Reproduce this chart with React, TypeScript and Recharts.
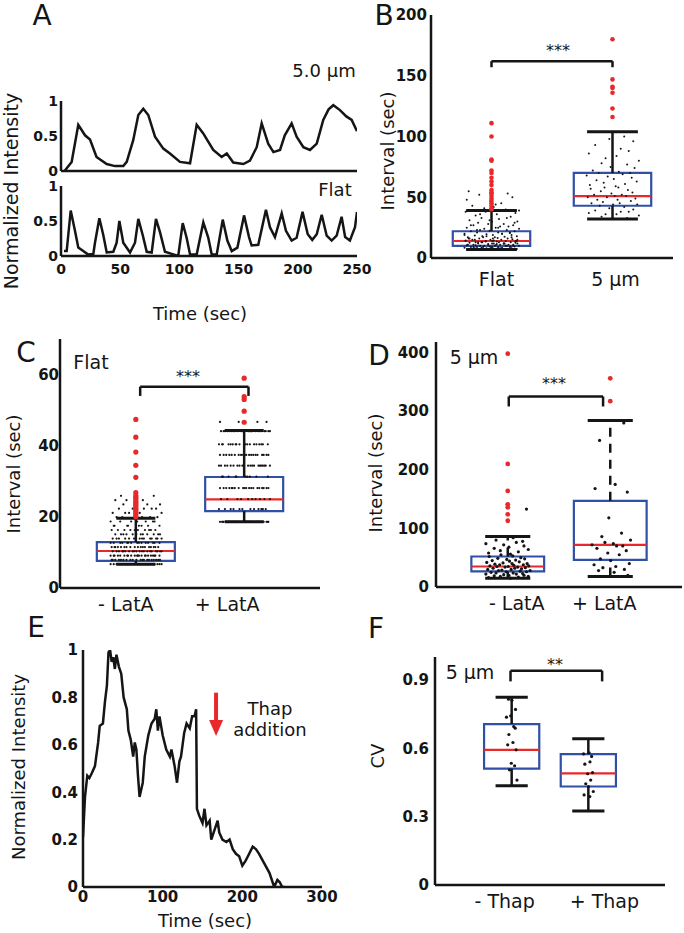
import React from 'react';
import {
  ComposedChart, LineChart, Line, Scatter, XAxis, YAxis,
  ReferenceArea, ReferenceLine,
} from 'recharts';

const FONT = '"DejaVu Sans", sans-serif';
const INK = '#151515';
const BLUE = '#3050a6';
const RED = '#e8292b';

// ---- panel A: normalized intensity traces ----
const A_TOP_T = [3, 9, 14.6, 20.3, 24.5, 30, 38.6, 45.6, 52.6, 55.5, 61, 65.3, 69.5, 73.7, 79.4, 86.4, 92, 100.5, 109, 114.6, 120, 128.6, 135.7, 140, 145.5, 154, 159.6, 165.3, 169.5, 175, 179.4, 185, 189, 194.8, 199, 204.7, 210.3, 216, 221.5, 226, 230, 235.6, 241, 245.5, 250];
const A_TOP_V = [0, 0.13, 0.66, 0.51, 0.45, 0.2, 0.1, 0.07, 0.07, 0.13, 0.44, 0.8, 0.89, 0.8, 0.49, 0.32, 0.25, 0.13, 0.11, 0.66, 0.54, 0.3, 0.2, 0.25, 0.12, 0.1, 0.15, 0.34, 0.68, 0.39, 0.27, 0.3, 0.51, 0.68, 0.49, 0.34, 0.3, 0.39, 0.73, 0.88, 0.94, 0.87, 0.78, 0.73, 0.57];
const A_BOT_T = [2.5, 4.8, 8.2, 11.8, 14.6, 18.8, 23, 27.3, 28.7, 32.4, 35.7, 38.6, 44.2, 47, 49.3, 52.6, 58.3, 62.5, 65.3, 69, 72.4, 76.6, 80.2, 83.6, 87.8, 93.5, 99, 102.8, 106.1, 109, 114.6, 120.2, 124.4, 127.3, 131.5, 136.6, 140.5, 144.2, 149, 154.6, 158.8, 161, 166.6, 173.1, 176.5, 180.7, 186.4, 190, 194.8, 199, 204, 208.4, 212.2, 216, 220.2, 224.4, 228.6, 232.8, 237, 240, 244, 248.3, 250];
const A_BOT_V = [0.07, 0.07, 0.65, 0.36, 0.12, 0.07, 0.02, 0.03, 0.19, 0.54, 0.3, 0.05, 0.06, 0.19, 0.5, 0.19, 0.05, 0.19, 0.53, 0.3, 0.06, 0.05, 0.53, 0.34, 0.06, 0.03, 0, 0.47, 0.26, 0.02, 0.02, 0.48, 0.26, 0.02, 0.02, 0.52, 0.22, 0.07, 0.12, 0.58, 0.27, 0.15, 0.16, 0.66, 0.41, 0.27, 0.61, 0.36, 0.22, 0.26, 0.63, 0.31, 0.23, 0.31, 0.59, 0.29, 0.22, 0.29, 0.56, 0.27, 0.22, 0.41, 0.63];
const A_X_TICKS = [0, 50, 100, 150, 200, 250];
const A_Y_TICKS = [0, 0.5, 1];

// ---- panel E: thapsigargin trace ----
const E_T = [0, 2.5, 5.4, 8, 11, 15, 19, 21, 25, 27.5, 30, 32, 34, 36, 38, 40, 42, 45, 48, 51, 55, 57, 60, 63, 65, 67, 69, 71, 75, 77.5, 82, 86, 90, 92, 94, 96, 100, 104.5, 109, 111, 115, 118, 121, 123, 127, 130, 134, 137, 140, 142, 143, 146, 150, 152.5, 155, 159, 161, 165, 169, 171, 175, 180, 184, 188, 192, 196, 200, 204, 207, 213, 217, 221, 227.5, 234, 240, 244, 247, 250, 253];
const E_V = [0.21, 0.38, 0.47, 0.46, 0.48, 0.51, 0.61, 0.68, 0.69, 0.78, 0.85, 0.99, 1.0, 0.95, 0.97, 0.92, 0.98, 0.93, 0.9, 0.8, 0.75, 0.66, 0.62, 0.55, 0.61, 0.58, 0.47, 0.38, 0.44, 0.55, 0.64, 0.69, 0.71, 0.75, 0.66, 0.72, 0.64, 0.58, 0.55, 0.58, 0.51, 0.44, 0.53, 0.55, 0.65, 0.69, 0.67, 0.72, 0.72, 0.75, 0.33, 0.3, 0.27, 0.33, 0.26, 0.28, 0.2, 0.24, 0.28, 0.23, 0.2, 0.19, 0.2, 0.16, 0.14, 0.13, 0.09, 0.11, 0.13, 0.17, 0.16, 0.14, 0.1, 0.06, 0, 0.03, 0.02, 0, 0];
const E_X_TICKS = [0, 100, 200, 300];
const E_Y_TICKS = [0, 0.2, 0.4, 0.6, 0.8, 1];
const THAP_TIME = 167;

// shared horizontal jitter (fraction of spread)
const JITTER = [0.12, -0.85, 0.47, -0.33, 0.91, -0.6, 0.05, 0.72, -0.18, -0.97, 0.38, 0.66, -0.52, 0.24, -0.74, 0.83, -0.07, 0.55, -0.41, 0.99, -0.26, 0.15, -0.89, 0.61, 0.31, -0.65, 0.78, -0.12, 0.44, -0.48, 0.02, 0.93, -0.79, 0.27, -0.36, 0.69, -0.57, 0.19, 0.86, -0.21, -0.93, 0.51, 0.08, -0.69, 0.35, -0.04, 0.75, -0.44, 0.58, -0.82, 0.22, -0.3];

// ---- panel B: Flat vs 5 um ----
const B_CATS = ['Flat', '5 µm'];
const B_Q1 = [10, 43];
const B_MED = [14, 51];
const B_Q3 = [22, 70];
const B_LO = [7, 32];
const B_HI = [39, 104];
const B_FLAT = [7, 7, 7, 7.5, 7.5, 8, 8, 8, 8, 8.5, 8.5, 9, 9, 9, 9, 9.5, 9.5, 10, 10, 10, 10, 10.5, 10.5, 11, 11, 11, 11, 11.5, 12, 12, 12, 12, 12.5, 13, 13, 13, 13, 13.5, 14, 14, 14, 14, 14.5, 15, 15, 15, 15.5, 16, 16, 16, 16.5, 17, 17, 17, 17.5, 18, 18, 18.5, 19, 19, 19.5, 20, 20, 20.5, 21, 21, 22, 22, 22.5, 23, 23, 24, 24, 25, 25, 26, 26, 27, 27, 28, 28, 29, 30, 30, 31, 32, 33, 34, 35, 36, 37, 38, 38, 40, 42, 43, 45, 47, 50, 52, 53, 55, 8, 9, 10, 11, 12, 13, 14, 15, 16, 17, 18, 19, 20, 21, 23, 25, 27, 29, 31, 33, 36, 39, 41, 44, 48, 7, 8, 9, 10, 11, 12, 13, 14, 15, 16, 7.5, 8.5, 9.5, 10.5, 11.5, 12.5, 13.5, 14.5, 10, 12];
const B_FLAT_OUT = [111, 100, 81, 80, 72, 70, 66, 63, 60, 56, 54, 53, 51, 49, 47, 45, 43, 41, 40];
const B_5UM = [33, 34, 35, 36, 36, 37, 38, 38, 39, 40, 41, 42, 43, 44, 44, 45, 45, 46, 47, 48, 48, 49, 50, 50, 51, 51, 52, 52, 53, 54, 55, 56, 57, 58, 58, 59, 60, 61, 62, 63, 64, 65, 66, 67, 68, 69, 70, 70, 71, 72, 74, 75, 77, 78, 80, 82, 84, 86, 88, 90, 93, 96, 98, 100];
const B_5UM_OUT = [180, 147, 141, 140, 136, 123, 116];
const B_Y_TICKS = [0, 50, 100, 150, 200];

// ---- panel C: Flat, -/+ LatA (values fall on frame-interval rows) ----
const LATA_CATS = ['- LatA', '+ LatA'];
const C_Q1 = [7.6, 21.6];
const C_MED = [10.4, 24.9];
const C_Q3 = [12.9, 31.2];
const C_LO = [6.7, 18.6];
const C_HI = [19.6, 44.3];
const C_MINUS_ROWS = [6.7, 7.9, 9.1, 10.3, 11.5, 12.7, 13.9, 15.1, 16.3, 17.5, 18.7, 19.9, 21.1, 22.3, 23.5, 24.7, 25.9];
const C_MINUS_COUNTS = [22, 20, 22, 20, 18, 15, 14, 12, 10, 8, 7, 6, 5, 5, 4, 3, 2];
const C_MINUS_OUT = [47.4, 42.4, 38.2, 34.5, 31.1, 26.8, 26, 25.5, 25, 24.4, 24, 23.5, 23, 22.4, 22, 21.5, 21, 20.5, 20];
const C_PLUS_ROWS = [18.6, 22.2, 25, 28.1, 31.3, 34.4, 37.4, 40.4, 44.1, 46.7];
const C_PLUS_COUNTS = [30, 12, 10, 20, 10, 20, 20, 18, 25, 4];
const C_PLUS_OUT = [59, 53.8, 53, 49.7, 46.6];
const C_Y_TICKS = [0, 20, 40, 60];

// ---- panel D: 5 um, -/+ LatA ----
const D_Q1 = [26.5, 46.4];
const D_MED = [35, 72];
const D_Q3 = [52, 147];
const D_LO = [15, 18];
const D_HI = [86, 284];
const D_MINUS = [15, 16, 17, 18, 18, 19, 20, 20, 21, 22, 22, 23, 24, 24, 25, 26, 26, 27, 28, 28, 29, 30, 30, 31, 32, 32, 33, 34, 34, 35, 35, 36, 36, 37, 38, 38, 39, 40, 40, 41, 42, 43, 44, 45, 46, 47, 48, 49, 50, 52, 53, 55, 56, 58, 60, 62, 64, 66, 68, 70, 72, 74, 76, 78, 80, 84, 86, 133];
const D_MINUS_OUT = [398, 210, 164, 141, 136, 124, 113];
const D_PLUS = [280, 250, 175, 168, 162, 118, 92, 86, 80, 76, 74, 72, 70, 70, 66, 62, 58, 55, 48, 45, 40, 38, 35, 33, 30, 28, 25, 20];
const D_PLUS_OUT = [356, 317];
const D_Y_TICKS = [0, 100, 200, 300, 400];

// ---- panel F: CV, -/+ Thap ----
const THAP_CATS = ['- Thap', '+ Thap'];
const F_Q1 = [0.51, 0.432];
const F_MED = [0.593, 0.49];
const F_Q3 = [0.706, 0.574];
const F_LO = [0.435, 0.325];
const F_HI = [0.824, 0.641];
const F_MINUS = [0.815, 0.81, 0.77, 0.742, 0.736, 0.695, 0.688, 0.66, 0.625, 0.615, 0.593, 0.534, 0.523, 0.505, 0.46];
const F_PLUS = [0.58, 0.575, 0.564, 0.54, 0.53, 0.493, 0.488, 0.46, 0.444, 0.432, 0.41, 0.395, 0.388];
const F_Y_TICKS = [0, 0.3, 0.6, 0.9];

const expandRows = (rows: number[], counts: number[]) =>
  rows.flatMap((r, i) => Array.from({ length: counts[i] }, () => r));

const jittered = (vals: number[], cat: number, spread: number, start = 0) =>
  vals.map((y, i) => ({ x: cat + JITTER[(i + start) % JITTER.length] * spread, y }));

const centered = (vals: number[], cat: number) => vals.map((y) => ({ x: cat, y }));

const zip = (ts: number[], vs: number[]) => ts.map((t, i) => ({ t, v: vs[i] }));

const PAD = { l: 70, t: 12, r: 26, b: 45 };
const boxStyle = (L: number, T: number) =>
  ({ position: 'absolute', left: L - PAD.l, top: T - PAD.t } as React.CSSProperties);

const axisLine = { stroke: INK, strokeWidth: 2.5 };
const numTick = { fontSize: 15, fontWeight: 700, fill: INK, fontFamily: FONT };
const smallTick = { ...numTick, fontSize: 14 };

const dot = (r: number, fill: string) => (p: any) =>
  <circle cx={p.cx} cy={p.cy} r={r} fill={fill} />;

type BoxPanelProps = {
  L: number; T: number; R: number; B: number;
  xDomain: [number, number]; yDomain: [number, number];
  yTicks: number[]; yFmt?: (v: number) => string;
  cats: string[]; catDx: number[];
  q1: number[]; med: number[]; q3: number[]; lo: number[]; hi: number[];
  halfW: number; capW: number;
  black: { x: number; y: number }[]; red: { x: number; y: number }[];
  dotR: number; redR: number;
  bracket: [number, number, number, number];
  dash?: string; yGap: number; xGap: number;
};

function BoxPanel(p: BoxPanelProps) {
  const w = p.R - p.L + PAD.l + PAD.r;
  const h = p.B - p.T + PAD.t + PAD.b;
  const [bx1, bx2, bTop, bLeg] = p.bracket;
  return (
    <div style={boxStyle(p.L, p.T)}>
      <ComposedChart width={w} height={h} margin={{ top: PAD.t, right: PAD.r, left: 0, bottom: 0 }}>
        <XAxis
          type="number" dataKey="x" domain={p.xDomain} ticks={[1, 2]} interval={0}
          height={PAD.b} axisLine={axisLine} tickLine={false} tickSize={0} tickMargin={p.xGap}
          allowDataOverflow
          tick={(t: any) => (
            <text x={t.x + p.catDx[t.index]} y={t.y} dy="0.71em" textAnchor="middle"
              fontSize={19} fontFamily={FONT} fill={INK}>
              {p.cats[t.index]}
            </text>
          )}
        />
        <YAxis
          type="number" dataKey="y" domain={p.yDomain} ticks={p.yTicks} interval={0}
          width={PAD.l} axisLine={axisLine} tickLine={false} tickSize={0} tickMargin={p.yGap}
          allowDataOverflow tick={numTick} tickFormatter={p.yFmt}
        />
        <Scatter data={p.black} shape={dot(p.dotR, INK)} isAnimationActive={false} />
        {[0, 1].map((i) => {
          const c = i + 1;
          return (
            <React.Fragment key={i}>
              <ReferenceLine segment={[{ x: c, y: p.q3[i] }, { x: c, y: p.hi[i] }]}
                stroke={INK} strokeWidth={2.5} strokeDasharray={p.dash} />
              <ReferenceLine segment={[{ x: c, y: p.lo[i] }, { x: c, y: p.q1[i] }]}
                stroke={INK} strokeWidth={2.5} strokeDasharray={p.dash} />
              <ReferenceLine segment={[{ x: c - p.capW, y: p.hi[i] }, { x: c + p.capW, y: p.hi[i] }]}
                stroke={INK} strokeWidth={3} />
              <ReferenceLine segment={[{ x: c - p.capW, y: p.lo[i] }, { x: c + p.capW, y: p.lo[i] }]}
                stroke={INK} strokeWidth={3} />
              <ReferenceArea x1={c - p.halfW} x2={c + p.halfW} y1={p.q1[i]} y2={p.q3[i]}
                fill="none" fillOpacity={0} stroke={BLUE} strokeWidth={2.2} strokeOpacity={1} />
              <ReferenceLine segment={[{ x: c - p.halfW, y: p.med[i] }, { x: c + p.halfW, y: p.med[i] }]}
                stroke={RED} strokeWidth={2.2} />
            </React.Fragment>
          );
        })}
        <Scatter data={p.red} shape={dot(p.redR, RED)} isAnimationActive={false} />
        <ReferenceLine segment={[{ x: bx1, y: bLeg }, { x: bx1, y: bTop }]} stroke={INK} strokeWidth={2.5} />
        <ReferenceLine segment={[{ x: bx1, y: bTop }, { x: bx2, y: bTop }]} stroke={INK} strokeWidth={2.5} />
        <ReferenceLine segment={[{ x: bx2, y: bTop }, { x: bx2, y: bLeg }]} stroke={INK} strokeWidth={2.5} />
      </ComposedChart>
    </div>
  );
}

type TracePanelProps = {
  L: number; T: number; R: number; B: number;
  data: { t: number; v: number }[];
  xDomain: [number, number]; xTicks: number[]; showX: boolean;
  yTicks: number[]; yFmt: (v: number) => string; yGap: number; xGap: number;
  tickStyle: typeof numTick;
  children?: React.ReactNode;
};

function TracePanel(p: TracePanelProps) {
  const w = p.R - p.L + PAD.l + PAD.r;
  const h = p.B - p.T + PAD.t + PAD.b;
  return (
    <div style={boxStyle(p.L, p.T)}>
      <LineChart width={w} height={h} data={p.data} margin={{ top: PAD.t, right: PAD.r, left: 0, bottom: 0 }}>
        <XAxis type="number" dataKey="t" domain={p.xDomain} ticks={p.xTicks} interval={0}
          height={PAD.b} axisLine={axisLine} tickLine={false} tickSize={0} tickMargin={p.xGap}
          tick={p.showX ? p.tickStyle : false} allowDataOverflow />
        <YAxis type="number" domain={[0, 1]} ticks={p.yTicks} interval={0}
          width={PAD.l} axisLine={axisLine} tickLine={false} tickSize={0} tickMargin={p.yGap}
          tick={p.tickStyle} tickFormatter={p.yFmt} allowDataOverflow />
        <Line type="linear" dataKey="v" stroke={INK} strokeWidth={2.5} dot={false}
          isAnimationActive={false} />
        {p.children}
      </LineChart>
    </div>
  );
}

const fmtFrac = (v: number) => (v === 0 ? '0' : v === 1 ? '1' : String(v));

type Note = { t: string; x: number; y: number; s: number; w?: number; r?: boolean };
const NOTES: Note[] = [
  { t: 'A', x: 42, y: 15, s: 28 },
  { t: 'B', x: 384, y: 15, s: 28 },
  { t: 'C', x: 26, y: 352, s: 28 },
  { t: 'D', x: 379, y: 355, s: 28 },
  { t: 'E', x: 36, y: 627, s: 28 },
  { t: 'F', x: 376, y: 628, s: 28 },
  { t: '5.0 µm', x: 324, y: 70, s: 18 },
  { t: 'Flat', x: 335, y: 189, s: 18 },
  { t: 'Time (sec)', x: 200, y: 313, s: 18 },
  { t: 'Normalized Intensity', x: 11, y: 191, s: 19, r: true },
  { t: 'Interval (sec)', x: 387, y: 151, s: 18, r: true },
  { t: '***', x: 558, y: 50, s: 16 },
  { t: 'Flat', x: 91, y: 362, s: 19 },
  { t: '***', x: 188, y: 376, s: 16 },
  { t: 'Interval (sec)', x: 13, y: 474, s: 18, r: true },
  { t: '5 µm', x: 474, y: 357, s: 19 },
  { t: '***', x: 554, y: 383, s: 16 },
  { t: 'Interval (sec)', x: 375, y: 473, s: 18, r: true },
  { t: 'Normalized Intensity', x: 18, y: 767, s: 18, r: true },
  { t: 'Time (sec)', x: 205, y: 920, s: 18 },
  { t: 'Thap', x: 270, y: 708, s: 18 },
  { t: 'addition', x: 270, y: 729, s: 18 },
  { t: '5 µm', x: 470, y: 672, s: 19 },
  { t: '**', x: 555, y: 664, s: 16 },
  { t: 'CV', x: 377, y: 756, s: 18, r: true },
];

export default function App() {
  let k = 0;
  const cMinus = expandRows(C_MINUS_ROWS, C_MINUS_COUNTS);
  const cPlus = expandRows(C_PLUS_ROWS, C_PLUS_COUNTS);
  return (
    <div style={{ position: 'relative', width: 684, height: 933, background: '#fff', overflow: 'hidden' }}>
      <style>{'body{margin:0}'}</style>

      <TracePanel L={61} T={101} R={357} B={171} data={zip(A_TOP_T, A_TOP_V)}
        xDomain={[0, 250]} xTicks={A_X_TICKS} showX={false} tickStyle={smallTick}
        yTicks={A_Y_TICKS} yFmt={fmtFrac} yGap={3} xGap={8} />
      <TracePanel L={61} T={186} R={357} B={256} data={zip(A_BOT_T, A_BOT_V)}
        xDomain={[0, 250]} xTicks={A_X_TICKS} showX tickStyle={smallTick}
        yTicks={A_Y_TICKS} yFmt={fmtFrac} yGap={3} xGap={8} />

      <BoxPanel L={431} T={15} R={673} B={258}
        xDomain={[0.5, 2.5]} yDomain={[0, 200]} yTicks={B_Y_TICKS}
        cats={B_CATS} catDx={[5, 3]}
        q1={B_Q1} med={B_MED} q3={B_Q3} lo={B_LO} hi={B_HI} halfW={0.32} capW={0.21}
        black={[...jittered(B_FLAT, 1, 0.23), ...jittered(B_5UM, 2, 0.22, 17)]}
        red={[...centered(B_FLAT_OUT, 1), ...centered(B_5UM_OUT, 2)]}
        dotR={1} redR={2.3} bracket={[1, 2, 162, 157]} yGap={4} xGap={15} />

      <BoxPanel L={60} T={339} R={320} B={588}
        xDomain={[0.3, 2.7]} yDomain={[0, 70]} yTicks={C_Y_TICKS}
        cats={LATA_CATS} catDx={[-10, -17]}
        q1={C_Q1} med={C_MED} q3={C_Q3} lo={C_LO} hi={C_HI} halfW={0.36} capW={0.18}
        black={[...jittered(cMinus, 1, 0.24), ...jittered(cPlus, 2, 0.24, 29)]}
        red={[...centered(C_MINUS_OUT, 1), ...centered(C_PLUS_OUT, 2)]}
        dotR={1.1} redR={2.6} bracket={[1.04, 2.04, 56.6, 54]} yGap={1} xGap={10} />

      <BoxPanel L={436} T={342} R={682} B={587}
        xDomain={[0.3, 2.7]} yDomain={[0, 418]} yTicks={D_Y_TICKS}
        cats={LATA_CATS} catDx={[9, -6]}
        q1={D_Q1} med={D_MED} q3={D_Q3} lo={D_LO} hi={D_HI} halfW={0.355} capW={0.22}
        black={[...jittered(D_MINUS, 1, 0.22), ...jittered(D_PLUS, 2, 0.2, 11)]}
        red={[...centered(D_MINUS_OUT, 1), ...centered(D_PLUS_OUT, 2)]}
        dotR={1.6} redR={2.4} bracket={[1.01, 1.93, 325, 308]} dash="9 7" yGap={7} xGap={10} />

      <TracePanel L={83} T={650} R={322} B={887} data={zip(E_T, E_V)}
        xDomain={[0, 300]} xTicks={E_X_TICKS} showX tickStyle={numTick}
        yTicks={E_Y_TICKS} yFmt={fmtFrac} yGap={5} xGap={4}>
        <ReferenceLine
          segment={[{ x: THAP_TIME, y: 0.82 }, { x: THAP_TIME, y: 0.637 }]}
          stroke={RED}
          shape={(s: any) => (
            <g>
              <line x1={s.x1} y1={s.y1} x2={s.x2} y2={s.y2 - 14} stroke={RED} strokeWidth={4} />
              <polygon points={`${s.x2 - 7},${s.y2 - 16} ${s.x2 + 7},${s.y2 - 16} ${s.x2},${s.y2}`} fill={RED} />
            </g>
          )}
        />
      </TracePanel>

      <BoxPanel L={435} T={657} R={665} B={885}
        xDomain={[0, 3]} yDomain={[0, 1]} yTicks={F_Y_TICKS} yFmt={fmtFrac}
        cats={THAP_CATS} catDx={[-7, 16]}
        q1={F_Q1} med={F_MED} q3={F_Q3} lo={F_LO} hi={F_HI} halfW={0.36} capW={0.21}
        black={[...jittered(F_MINUS, 1, 0.07, 5), ...jittered(F_PLUS, 2, 0.07, 21)]}
        red={[]}
        dotR={1.6} redR={2.4} bracket={[0.985, 2.18, 0.94, 0.893]} yGap={6} xGap={10} />

      <svg width={684} height={933} style={{ position: 'absolute', left: 0, top: 0, pointerEvents: 'none' }}>
        {NOTES.map((n) => (
          <text key={k++} x={n.x} y={n.y} fontSize={n.s} fontFamily={FONT} fontWeight={n.w ?? 400}
            fill={INK} textAnchor="middle" dominantBaseline="central"
            transform={n.r ? `rotate(-90 ${n.x} ${n.y})` : undefined}>
            {n.t}
          </text>
        ))}
      </svg>
    </div>
  );
}
